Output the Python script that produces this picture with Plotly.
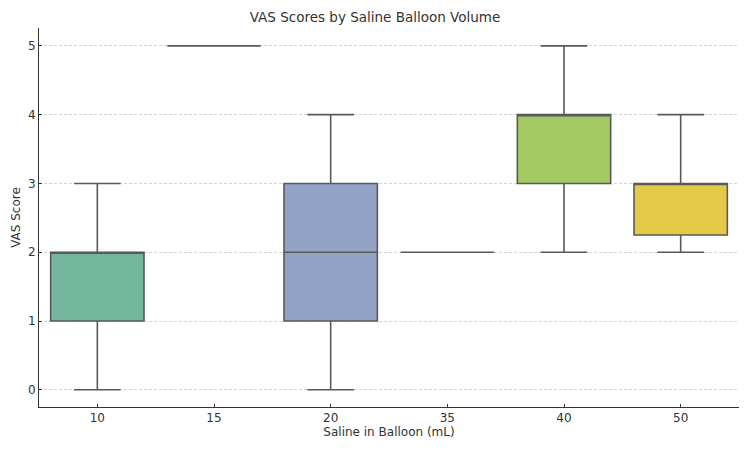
import plotly.graph_objects as go

categories = ["10", "15", "20", "35", "40", "50"]
q1 = [1, 5, 1, 2, 3, 2.25]
median = [2, 5, 2, 2, 4, 3]
q3 = [2, 5, 3, 2, 4, 3]
lowerfence = [0, 5, 0, 2, 2, 2]
upperfence = [3, 5, 4, 2, 5, 4]
colors = ["#75b69f", "#e6946f", "#93a3c6", "#d690ba", "#a3c963", "#e4c947"]

fig = go.Figure()
for i, c in enumerate(categories):
    fig.add_trace(go.Box(
        x=[c], q1=[q1[i]], median=[median[i]], q3=[q3[i]],
        lowerfence=[lowerfence[i]], upperfence=[upperfence[i]],
        fillcolor=colors[i], line=dict(color="#595959", width=1.6),
        width=0.8, whiskerwidth=0.5, boxpoints=False, showlegend=False,
        hoverinfo="skip"))

fig.update_layout(
    width=750, height=450,
    margin=dict(l=39, r=11, t=28, b=43),
    paper_bgcolor="white", plot_bgcolor="white",
    boxmode="overlay",
    font=dict(family="DejaVu Sans", size=12, color="#333333"),
    title=dict(text="VAS Scores by Saline Balloon Volume", x=0.5, xanchor="center",
               y=0.962, yanchor="middle", font=dict(size=13.5, color="#333333")),
    xaxis=dict(type="category", categoryorder="array", categoryarray=categories,
               range=[-0.5, 5.5], showgrid=False, showline=True, linecolor="#333333",
               linewidth=1, ticks="inside", ticklen=3, tickcolor="#333333",
               automargin=False,
               title=dict(text="Saline in Balloon (mL)", standoff=2, font=dict(size=12))),
    yaxis=dict(range=[-0.25, 5.26], tickvals=[0, 1, 2, 3, 4, 5], showgrid=True,
               gridcolor="#d4d4d4", griddash="3px,2px", gridwidth=0.8, zeroline=False,
               showline=True, linecolor="#333333", linewidth=1, ticks="inside",
               ticklen=3, tickcolor="#333333", automargin=False,
               title=dict(text="VAS Score", standoff=4, font=dict(size=12))),
)

fig.write_html("out.html")
